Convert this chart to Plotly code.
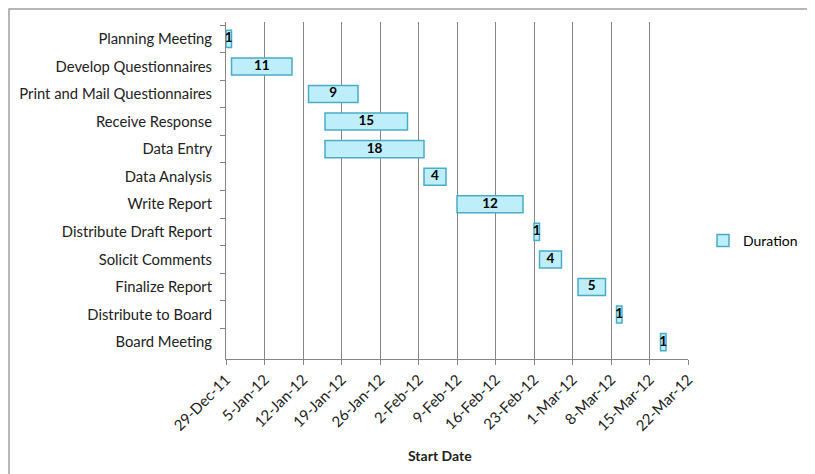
import plotly.graph_objects as go
import pandas as pd

tasks = ["Planning Meeting", "Develop Questionnaires", "Print and Mail Questionnaires",
         "Receive Response", "Data Entry", "Data Analysis", "Write Report",
         "Distribute Draft Report", "Solicit Comments", "Finalize Report",
         "Distribute to Board", "Board Meeting"]
start_dates = ["2011-12-29", "2011-12-30", "2012-01-13", "2012-01-16", "2012-01-16",
               "2012-02-03", "2012-02-09", "2012-02-23", "2012-02-24", "2012-03-02",
               "2012-03-09", "2012-03-17"]
durations = [1, 11, 9, 15, 18, 4, 12, 1, 4, 5, 1, 1]

DAY_MS = 86400000
starts = pd.to_datetime(start_dates)
mids = [s + pd.Timedelta(days=d / 2) for s, d in zip(starts, durations)]

FONT = "Lato"

# the page body has an 8px default margin; work in figure coordinates
OFF = 8
W, H = 815 - OFF, 474 - OFF
L, R, T, B = 226 - OFF, 688 - OFF, 22 - OFF, 359 - OFF


def px(xpage):
    return (xpage - OFF - L) / (R - L)


def py(ypage):
    return (B - (ypage - OFF)) / (B - T)


fig = go.Figure()
fig.add_trace(go.Bar(
    y=tasks, x=[d * DAY_MS for d in durations], base=start_dates,
    orientation="h", name="Duration", width=0.62,
    marker=dict(color="#bdeef9", line=dict(color="#4bacc6", width=1.5)),
    showlegend=True,
))
fig.add_trace(go.Scatter(
    y=tasks, x=mids, mode="text", text=[str(d) for d in durations],
    textfont=dict(family=FONT, size=13.5, color="#000000", weight="bold"),
    showlegend=False, hoverinfo="skip",
))

fig.update_layout(
    width=W, height=H,
    margin=dict(l=L, r=W - R, t=T, b=H - B, autoexpand=False),
    paper_bgcolor="white", plot_bgcolor="white",
    font=dict(family=FONT, size=14, color="#000000"),
    legend=dict(x=px(703), y=py(241), xanchor="left", yanchor="middle",
                font=dict(size=14), bgcolor="rgba(0,0,0,0)", itemwidth=30),
    xaxis=dict(
        type="date", automargin=False,
        range=["2011-12-29", "2012-03-22"],
        tick0="2011-12-29", dtick=7 * DAY_MS,
        tickformat="%-d-%b-%y", tickangle=-45,
        showgrid=True, gridcolor="#868686", gridwidth=1,
        showline=True, linecolor="#868686", linewidth=1,
        ticks="outside", ticklen=5, tickcolor="#868686",
        tickfont=dict(size=15, color="#222222"),
        zeroline=False,
    ),
    yaxis=dict(
        type="category", autorange="reversed", automargin=False,
        showline=True, linecolor="#868686", linewidth=1,
        ticks="outside", ticklen=5, tickcolor="#868686", tickson="boundaries",
        ticklabelstandoff=10,
        showgrid=False, tickfont=dict(size=14.8, color="#222222"),
    ),
    annotations=[dict(text="<b>Start Date</b>", xref="paper", yref="paper",
                      x=px(440), y=py(455),
                      xanchor="center", yanchor="middle", showarrow=False,
                      font=dict(size=14, color="#222222"))],
    shapes=[dict(type="rect", xref="paper", yref="paper",
                 x0=px(9), x1=px(808),
                 y0=py(490), y1=py(OFF + 1),
                 line=dict(color="#a0a0a0", width=1.5), layer="below")],
)

fig.write_html("out.html")
